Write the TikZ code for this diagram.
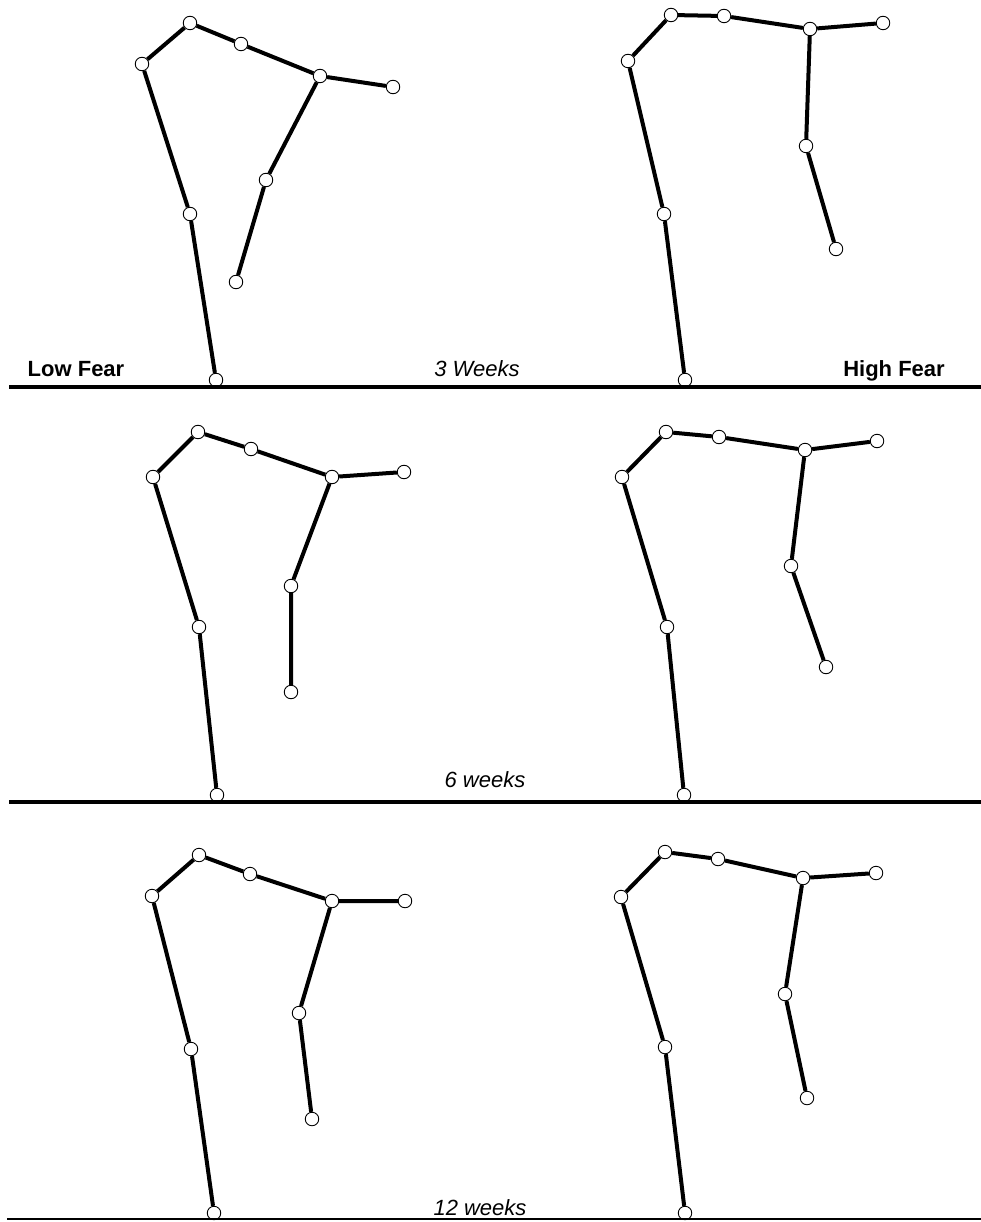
\documentclass[tikz,border=0pt]{standalone}
\usepackage{fontspec}
\setmainfont{Liberation Sans}
\usepackage{tikz}
\usetikzlibrary{positioning}
\tikzset{
  jt/.style={circle,draw=black,line width=0.9pt,fill=white,inner sep=0pt,minimum size=13.5pt},
  bone/.style={line width=4pt,black},
  ground/.style={line width=4.5pt,black},
  lbl/.style={anchor=base,font=\fontsize{22}{26}\selectfont\bfseries},
  wk/.style={anchor=base,font=\fontsize{22}{26}\selectfont\itshape}
}

\begin{document}
\begin{tikzpicture}[x=1pt,y=-1pt]
\useasboundingbox (0,0) rectangle (981,1222);
% joints, one figure per row and side
\foreach \n/\x/\y in {ank/216/380,knee/190/214,hip/142/64,spa/190/23,spb/241/44,sh/320/76,head/393/87,elb/266/180,wri/236/282}
  {\node[jt] (a\n) at (\x,\y) {};}
\foreach \n/\x/\y in {ank/685/380,knee/664/214,hip/628/61,spa/671/15,spb/724/16,sh/810/29,head/883/23,elb/806/146,wri/836/249}
  {\node[jt] (b\n) at (\x,\y) {};}
\foreach \n/\x/\y in {ank/217/795,knee/199/627,hip/153/477,spa/198/432,spb/251/449,sh/332/477,head/404/472,elb/291/586,wri/291/692}
  {\node[jt] (c\n) at (\x,\y) {};}
\foreach \n/\x/\y in {ank/684/795,knee/667/627,hip/622/477,spa/666/432,spb/719/437,sh/805/450,head/877/441,elb/791/566,wri/826/667}
  {\node[jt] (d\n) at (\x,\y) {};}
\foreach \n/\x/\y in {ank/214/1213,knee/191/1049,hip/152/896,spa/199/855,spb/250/874,sh/332/901,head/405/901,elb/299/1013,wri/312/1119}
  {\node[jt] (e\n) at (\x,\y) {};}
\foreach \n/\x/\y in {ank/685/1213,knee/665/1047,hip/621/897,spa/665/852,spb/718/859,sh/803/878,head/876/873,elb/785/994,wri/807/1098}
  {\node[jt] (f\n) at (\x,\y) {};}
% bones
\foreach \f in {a,b,c,d,e,f}{
  \draw[bone] (\f ank)--(\f knee)--(\f hip)--(\f spa)--(\f spb)--(\f sh)--(\f head);
  \draw[bone] (\f sh)--(\f elb)--(\f wri);
}
% ground lines
\coordinate (g1l) at (9,387); \coordinate (g1r) at (981,387);
\coordinate (g2l) at (9,802); \coordinate (g2r) at (981,802);
\coordinate (g3l) at (7,1219); \coordinate (g3r) at (981,1219);
\draw[ground] (g1l)--(g1r);
\draw[ground] (g2l)--(g2r);
\draw[line width=1.2pt] (g3l)--(g3r);
% labels
\node[lbl] (low) at (76,376) {Low Fear};
\node[lbl] (high) at (894,376) {High Fear};
\node[wk] (w3) at (477,376) {3 Weeks};
\node[wk] (w6) at (485,787) {6 weeks};
\node[wk] (w12) at (480,1215) {12 weeks};
\end{tikzpicture}
\end{document}
